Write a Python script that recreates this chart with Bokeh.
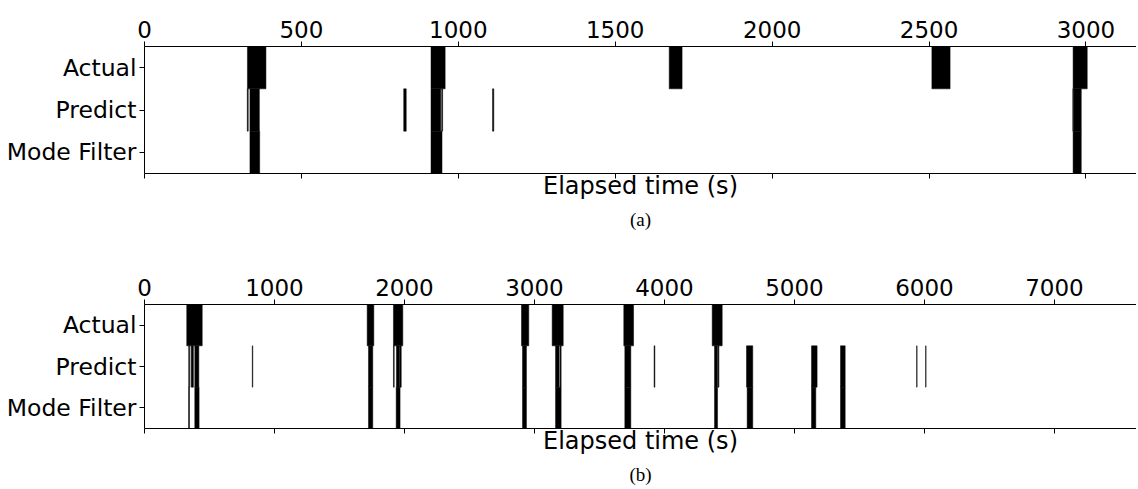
from bokeh.plotting import figure
from bokeh.layouts import column
from bokeh.models import LinearAxis, Range1d, FixedTicker, Title, ColumnDataSource
from bokeh.embed import file_html
from bokeh.resources import INLINE

row_labels = ["Mode Filter", "Predict", "Actual"]

# (start, duration) in seconds
a_actual = [(328, 59), (913, 45), (1672, 41), (2509, 58), (2959, 45)]
a_predict = [(327.5, 3), (336, 30), (826, 8), (913, 31), (947, 3), (1109, 4),
             (2958, 2), (2961, 24)]
a_mode = [(336, 31), (913, 35), (2959, 26)]
a_ticks = [0, 500, 1000, 1500, 2000, 2500, 3000]
a_xmax = 3161

b_actual = [(325, 119), (1713, 51), (1915, 72), (2900, 56), (3136, 85),
            (3687, 75), (4367, 77)]
b_predict = [(340, 7), (358, 3), (364, 12), (387, 31), (829, 4), (1723, 33),
             (1915, 6), (1938, 24), (1965, 10), (2908, 30), (3162, 28),
             (3197, 8), (3695, 46), (3920, 6), (4385, 23), (4413, 6),
             (4631, 48), (5131, 43), (5354, 36), (5940, 3), (6009, 3)]
b_mode = [(339, 7), (387, 33), (1723, 33), (1936, 30), (2908, 30),
          (3162, 43), (3695, 46), (4385, 23), (4636, 43), (5131, 33),
          (5354, 36)]
b_ticks = [0, 1000, 2000, 3000, 4000, 5000, 6000, 7000]
b_xmax = 7631

FONT = "DejaVu Sans"


def make(xmax, ticks, actual, predict, mode, caption, h, top, bottom):
    p = figure(width=1136, height=h, x_range=Range1d(0, xmax),
               y_range=Range1d(-0.5, 2.5), x_axis_location="above",
               output_backend="svg", toolbar_location=None,
               min_border_left=144, min_border_right=0,
               min_border_top=top, min_border_bottom=bottom)
    p.outline_line_color = None
    p.grid.visible = False
    p.background_fill_color = "white"
    for data, row in ((mode, 0), (predict, 1), (actual, 2)):
        src = ColumnDataSource(dict(
            left=[s for s, d in data],
            right=[s + d for s, d in data],
            y=[row] * len(data)))
        p.hbar(y="y", left="left", right="right", height=1.0, source=src,
               fill_color="black", line_color="black", line_width=0.5)

    top_ax = p.xaxis[0]
    top_ax.ticker = FixedTicker(ticks=ticks)
    top_ax.major_label_text_font = FONT
    top_ax.major_label_text_font_size = "23px"
    top_ax.major_label_text_color = "black"
    top_ax.major_label_standoff = 4
    top_ax.axis_line_color = "black"
    top_ax.major_tick_line_color = "black"
    top_ax.major_tick_in = 0
    top_ax.major_tick_out = 5
    top_ax.minor_tick_line_color = None

    bot = LinearAxis(ticker=FixedTicker(ticks=ticks),
                     axis_label="Elapsed time (s)",
                     major_label_overrides={t: "" for t in ticks},
                     major_label_text_font_size="22px",
                     major_label_standoff=0,
                     axis_label_standoff=-7,
                     axis_label_text_font=FONT,
                     axis_label_text_font_size="24px",
                     axis_label_text_font_style="normal",
                     axis_label_text_color="black",
                     axis_line_color="black",
                     major_tick_line_color="black",
                     major_tick_in=0, major_tick_out=5,
                     minor_tick_line_color=None)
    p.add_layout(bot, "below")
    p.add_layout(Title(text=caption, align="center", text_font="Liberation Serif",
                       text_font_size="19px", text_font_style="normal",
                       text_color="black", standoff=9), "below")

    ya = p.yaxis[0]
    ya.ticker = FixedTicker(ticks=[0, 1, 2])
    ya.major_label_overrides = {i: lab for i, lab in enumerate(row_labels)}
    ya.major_label_text_font = FONT
    ya.major_label_text_font_size = "23.5px"
    ya.major_label_text_color = "black"
    ya.major_label_standoff = 3
    ya.axis_line_color = "black"
    ya.major_tick_line_color = "black"
    ya.major_tick_in = 0
    ya.major_tick_out = 5
    ya.minor_tick_line_color = None
    return p


pa = make(a_xmax, a_ticks, a_actual, a_predict, a_mode, "(a)", 236, 46, 63)
pb = make(b_xmax, b_ticks, b_actual, b_predict, b_mode, "(b)", 253, 68, 59)

layout = column(pa, pb, spacing=0)
open("out.html", "w").write(file_html(layout, INLINE))
